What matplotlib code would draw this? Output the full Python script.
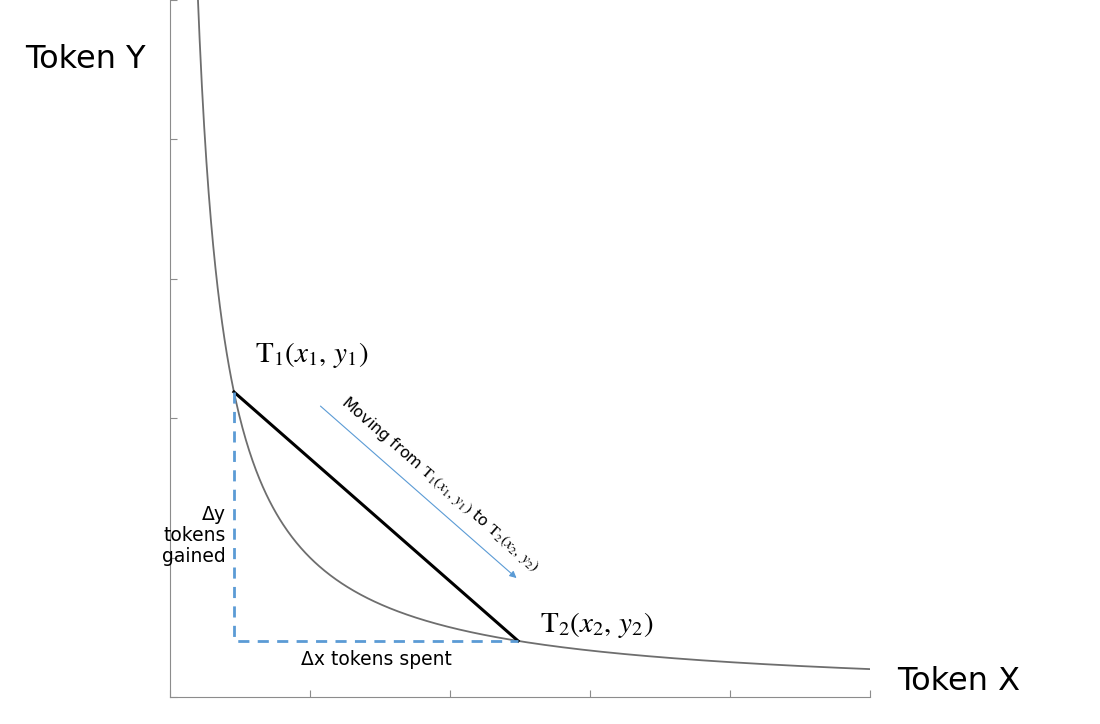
import numpy as np
import matplotlib
matplotlib.use("Agg")
import matplotlib.pyplot as plt

plt.rcParams['mathtext.fontset'] = 'stix'

k = 1.0
x1, x2 = 0.457, 2.486
y1, y2 = k / x1, k / x2
xticks = [0, 1, 2, 3, 4, 5]
yticks = [0, 1, 2, 3, 4, 5]

fig = plt.figure(figsize=(11, 7.24), dpi=100)
ax = fig.add_axes([0.1545, 0.0373, 0.791 - 0.1545, 1 - 0.0373])
ax.set_xlim(0, 5)
ax.set_ylim(0, 5)

xs = np.linspace(0.18, 5, 600)
ax.plot(xs, k / xs, color='#6e6e6e', lw=1.3, clip_on=True)
ax.plot([x1, x2], [y1, y2], color='black', lw=2.2)
ax.plot([x1, x1, x2], [y1, y2, y2], color='#5b9bd5', lw=2, ls=(0, (4, 3)))

for s in ['top', 'right']:
    ax.spines[s].set_visible(False)
for s in ['left', 'bottom']:
    ax.spines[s].set_color('#8c8c8c')
ax.set_xticks(xticks)
ax.set_yticks(yticks)
ax.tick_params(direction='in', colors='#8c8c8c', length=5, labelleft=False, labelbottom=False)

fig.text(25/1100, 1 - 60/724, 'Token Y', fontsize=23, va='center', ha='left')
fig.text(897/1100, 1 - 682/724, 'Token X', fontsize=23, va='center', ha='left')

ax.text(0.61, 2.45, r'$\mathrm{T}_1(x_1,\,y_1)$', fontsize=21, ha='left', va='center')
ax.text(2.64, 0.52, r'$\mathrm{T}_2(x_2,\,y_2)$', fontsize=21, ha='left', va='center')

ax.annotate('', xy=(2.49, 0.84), xytext=(1.06, 2.10),
            arrowprops=dict(arrowstyle='-|>', color='#5b9bd5', lw=0.8, mutation_scale=10))
ax.text(1.93, 1.53, r'Moving from $\mathrm{T}_1(x_1,\,y_1)$ to $\mathrm{T}_2(x_2,\,y_2)$',
        fontsize=11.5, rotation=-41, rotation_mode='anchor', ha='center', va='center')

ax.text(0.40, 1.16, 'Δy\ntokens\ngained', fontsize=13.5, ha='right', va='center', linespacing=1.15)
ax.text((x1 + x2) / 2, 0.27, 'Δx tokens spent', fontsize=13.5, ha='center', va='center')

fig.savefig('out.png', dpi=100)
